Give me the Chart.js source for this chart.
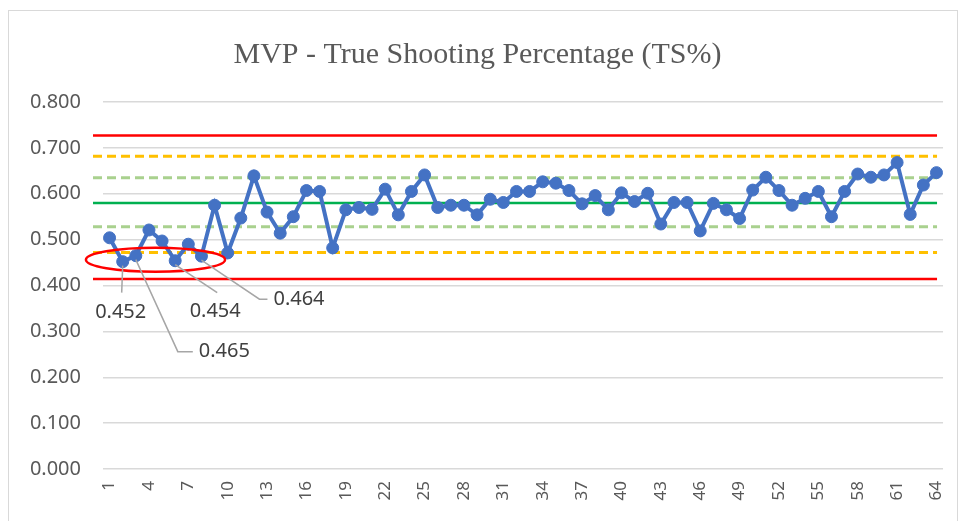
<!DOCTYPE html>
<html>
<head>
<meta charset="utf-8">
<script src="https://cdn.jsdelivr.net/npm/chart.js@4"></script>
<style>
  html, body { margin: 0; padding: 0; background: #fff; }
</style>
</head>
<body>
<canvas id="tsChart" width="961" height="521"></canvas>
<script>
// game numbers 1..64
var games = [];
for (var g = 1; g <= 64; g++) games.push(String(g));

// TS% per game
var tsValues = [
  0.504, 0.452, 0.465, 0.521, 0.497, 0.454, 0.490, 0.464, 0.575, 0.471,
  0.547, 0.639, 0.560, 0.514, 0.550, 0.607, 0.605, 0.482, 0.565, 0.570,
  0.566, 0.610, 0.554, 0.605, 0.641, 0.570, 0.575, 0.575, 0.554, 0.588,
  0.581, 0.605, 0.605, 0.626, 0.623, 0.607, 0.578, 0.596, 0.565, 0.602,
  0.583, 0.601, 0.534, 0.581, 0.581, 0.519, 0.579, 0.565, 0.546, 0.608,
  0.636, 0.607, 0.575, 0.590, 0.605, 0.550, 0.605, 0.643, 0.636, 0.641,
  0.668, 0.555, 0.619, 0.646
];

// control limits
var limitNames  = ['ucl', 'lcl', 'upper2', 'lower2', 'upper1', 'lower1', 'mean'];
var limitValues = [0.727, 0.414, 0.682, 0.472, 0.635, 0.528, 0.580];

// games that get a callout (index into tsValues)
var calloutGames = [1, 2, 5, 7];

var yTicks = [0, 0.1, 0.2, 0.3, 0.4, 0.5, 0.6, 0.7, 0.8];

// line styles per limit
var limitStyle = {
  ucl:    { color: '#ff0000', width: 2.5, dash: [] },
  lcl:    { color: '#ff0000', width: 2.5, dash: [] },
  upper2: { color: '#ffc000', width: 3, dash: [9, 5] },
  lower2: { color: '#ffc000', width: 3, dash: [9, 5] },
  upper1: { color: '#a9d18e', width: 3, dash: [9, 5] },
  lower1: { color: '#a9d18e', width: 3, dash: [9, 5] },
  mean:   { color: '#00b050', width: 2.5, dash: [] }
};

// where each callout label goes, relative to its point
var calloutLayout = {
  1: { path: [[-1, 31]], label: [-2, 51], align: 'center' },
  2: { path: [[42, 96], [57, 96]], label: [63, 96], align: 'left' },
  5: { path: [[42, 32]], label: [40, 51], align: 'center' },
  7: { path: [[58, 43], [66, 43]], label: [72, 43], align: 'left' }
};

var overlay = {
  id: 'overlay',
  beforeDatasetsDraw: function(chart) {
    var ctx = chart.ctx, area = chart.chartArea, y = chart.scales.y;
    ctx.save();
    limitNames.forEach(function(name, i) {
      var st = limitStyle[name];
      var py = y.getPixelForValue(limitValues[i]);
      ctx.strokeStyle = st.color;
      ctx.lineWidth = st.width;
      ctx.setLineDash(st.dash);
      ctx.beginPath();
      ctx.moveTo(area.left - 10, py);
      ctx.lineTo(area.right - 6, py);
      ctx.stroke();
    });
    ctx.restore();
  },
  afterDatasetsDraw: function(chart) {
    var ctx = chart.ctx, x = chart.scales.x, y = chart.scales.y;
    ctx.save();
    // red ellipse around the low games
    var cx = x.getPixelForValue(3.5);
    var rx = x.getPixelForValue(8.8) - x.getPixelForValue(3.5);
    var cy = y.getPixelForValue(0.456);
    ctx.strokeStyle = '#ff0000';
    ctx.lineWidth = 2.5;
    ctx.beginPath();
    ctx.ellipse(cx, cy, rx, 12, 0, 0, Math.PI * 2);
    ctx.stroke();

    // callouts
    ctx.font = '20px "Noto Sans"';
    ctx.textBaseline = 'middle';
    calloutGames.forEach(function(idx) {
      var px = x.getPixelForValue(idx);
      var py = y.getPixelForValue(tsValues[idx]);
      var lay = calloutLayout[idx];
      ctx.strokeStyle = '#a6a6a6';
      ctx.lineWidth = 1.5;
      ctx.beginPath();
      ctx.moveTo(px, py + 4);
      lay.path.forEach(function(p) { ctx.lineTo(px + p[0], py + p[1]); });
      ctx.stroke();
      ctx.fillStyle = '#404040';
      ctx.textAlign = lay.align;
      ctx.fillText(tsValues[idx].toFixed(3), px + lay.label[0], py + lay.label[1]);
    });
    ctx.restore();
  },
  afterDraw: function(chart) {
    var ctx = chart.ctx;
    ctx.save();
    ctx.strokeStyle = '#d9d9d9';
    ctx.lineWidth = 1;
    ctx.strokeRect(8.5, 10.5, 949, 520);
    ctx.restore();
  }
};

var ctx = document.getElementById('tsChart').getContext('2d');
var tsChart = new Chart(ctx, {
  type: 'line',
  data: {
    labels: games,
    datasets: [{
      label: 'TS%',
      data: tsValues,
      borderColor: '#4472c4',
      backgroundColor: '#4472c4',
      borderWidth: 4,
      pointRadius: 6,
      pointHoverRadius: 6,
      pointBackgroundColor: '#4472c4',
      pointBorderColor: '#4472c4',
      pointBorderWidth: 1,
      tension: 0,
      fill: false
    }]
  },
  options: {
    responsive: false,
    animation: false,
    layout: {
      padding: { left: 10, right: 16, top: 20, bottom: 0 }
    },
    plugins: {
      legend: { display: false },
      tooltip: { enabled: false },
      title: {
        display: true,
        text: 'MVP - True Shooting Percentage (TS%)',
        color: '#595959',
        font: { family: '"Liberation Serif", serif', size: 30, weight: 'normal' },
        padding: { top: 17, bottom: 29 }
      }
    },
    scales: {
      x: {
        offset: true,
        grid: { display: false },
        border: { display: false },
        ticks: {
          autoSkip: false,
          maxRotation: 90,
          minRotation: 90,
          color: '#595959',
          font: { family: '"Noto Sans"', size: 17 },
          padding: 4,
          callback: function(val, i) { return i % 3 === 0 ? games[i] : ''; }
        },
        afterFit: function(s) { s.height = 52; }
      },
      y: {
        min: 0,
        max: 0.8,
        afterBuildTicks: function(s) { s.ticks = yTicks.map(function(v) { return { value: v }; }); },
        grid: { color: '#d9d9d9', lineWidth: 1.5, drawTicks: false },
        border: { display: false },
        ticks: {
          color: '#595959',
          font: { family: '"Noto Sans"', size: 20 },
          padding: 22,
          callback: function(v) { return Number(v).toFixed(3); }
        },
        afterFit: function(s) { s.width = 93; }
      }
    }
  },
  plugins: [overlay]
});
</script>
</body>
</html>
